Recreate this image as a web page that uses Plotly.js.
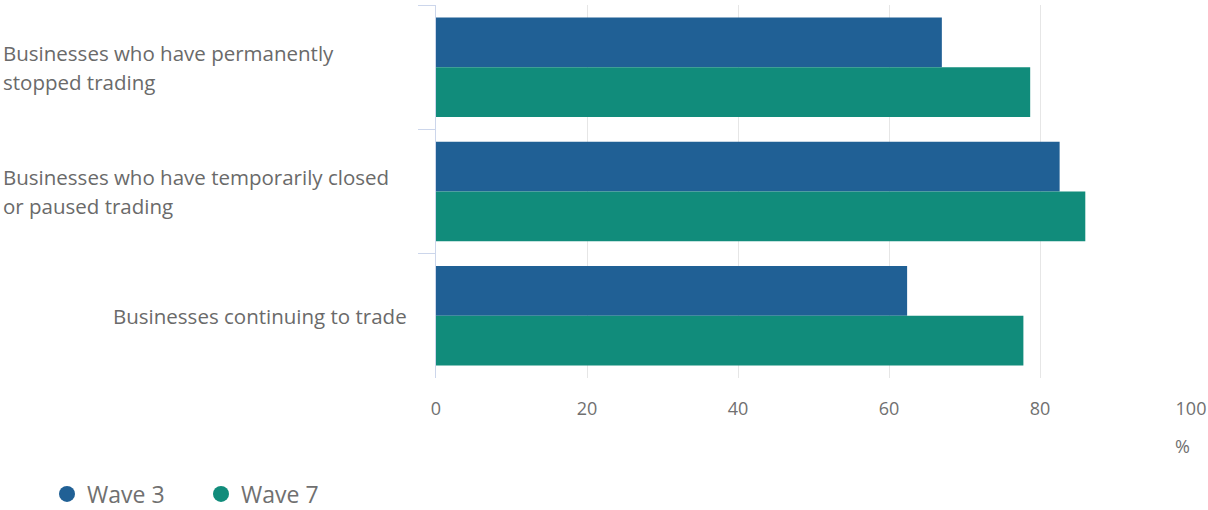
<!DOCTYPE html>
<html>
<head>
<meta charset="utf-8">
<script src="https://cdn.plot.ly/plotly-3.0.1.min.js"></script>
<style>html,body{margin:0;padding:0;background:#fff;}#chart{width:1208px;height:510px;}</style>
</head>
<body>
<div id="chart"></div>
<script>
var categories = [
  "Businesses who have permanently<br>stopped trading",
  "Businesses who have temporarily closed<br>or paused trading",
  "Businesses continuing to trade"
];
var wave3 = [67.0, 82.6, 62.4];
var wave7 = [78.7, 86.0, 77.8];
var seriesNames = ["Wave 3", "Wave 7"];
var seriesColors = ["#206095", "#118c7b"];
var xTickVals = [0, 20, 40, 60, 80, 100];
var xUnit = "%";

var FONT = "Open Sans, sans-serif";
var W = 1208, H = 510;
var ML = 436, MR = 17, MT = 5, MB = 132;
var plotW = W - ML - MR, plotH = H - MT - MB;
function px2x(p){ return (p - ML) / plotW; }
function py2y(p){ return (H - MB - p) / plotH; }

var data = [];
[wave3, wave7].forEach(function(vals, i){
  data.push({
    type: "bar", orientation: "h",
    x: vals, y: categories,
    name: seriesNames[i],
    marker: {color: seriesColors[i]},
    showlegend: false,
    hoverinfo: "x"
  });
});
seriesNames.forEach(function(n, i){
  data.push({
    type: "scatter", mode: "markers",
    x: [null], y: [null],
    name: n,
    marker: {color: seriesColors[i], size: 20, symbol: "circle"},
    showlegend: true
  });
});

var LINE_H = 29;
var annotations = [];
categories.forEach(function(c){
  var lines = c.split("<br>");
  var multi = lines.length > 1;
  lines.forEach(function(line, k){
    annotations.push({
      xref: "paper", yref: "y",
      x: multi ? px2x(1) : px2x(409),
      y: c,
      yshift: ((lines.length - 1) / 2 - k) * LINE_H,
      xanchor: multi ? "left" : "right",
      yanchor: "middle",
      text: line,
      showarrow: false,
      font: {family: FONT, size: 20.5, color: "#6a6a6a"}
    });
  });
});
annotations.push({
  xref: "paper", yref: "paper",
  x: px2x(1182), y: py2y(446),
  xanchor: "center", yanchor: "middle",
  text: xUnit, showarrow: false,
  font: {family: FONT, size: 18, color: "#707070"}
});

var layout = {
  width: W, height: H,
  margin: {l: ML, r: MR, t: MT, b: MB, pad: 0, autoexpand: false},
  paper_bgcolor: "#ffffff",
  plot_bgcolor: "#ffffff",
  barmode: "group",
  bargap: 0.2,
  bargroupgap: 0,
  font: {family: FONT, color: "#707070"},
  xaxis: {
    range: [0, 100],
    tickvals: xTickVals,
    showgrid: true,
    gridcolor: "#e6e6e6",
    gridwidth: 1,
    zeroline: false,
    showline: false,
    ticks: "",
    ticklabelstandoff: 18,
    tickfont: {family: FONT, size: 18, color: "#707070"},
    fixedrange: true
  },
  yaxis: {
    autorange: "reversed",
    showticklabels: false,
    showgrid: false,
    zeroline: false,
    showline: true,
    linecolor: "#ccd6eb",
    linewidth: 1,
    ticks: "outside",
    tickson: "boundaries",
    ticklen: 17,
    tickcolor: "#ccd6eb",
    fixedrange: true
  },
  showlegend: true,
  legend: {
    orientation: "h",
    xref: "container", yref: "container",
    x: 47 / W, xanchor: "left",
    y: (H - 494) / H, yanchor: "middle",
    font: {family: FONT, size: 23, color: "#707070"},
    entrywidth: 109,
    entrywidthmode: "pixels",
    bgcolor: "rgba(0,0,0,0)"
  },
  annotations: annotations
};

Plotly.newPlot("chart", data, layout, {displayModeBar: false, staticPlot: true});
</script>
</body>
</html>
